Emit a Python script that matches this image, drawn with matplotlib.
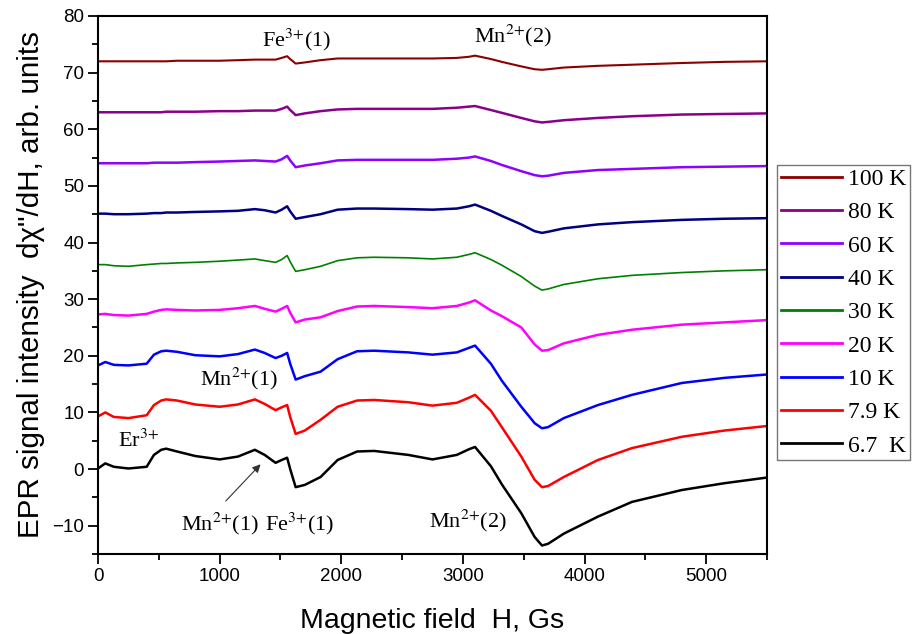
import matplotlib
matplotlib.use("Agg")
import matplotlib.pyplot as plt
from matplotlib.ticker import MultipleLocator

# Magnetic field grid (Gs)
field = [0, 60, 130, 250, 400, 460, 520, 560, 650, 800, 1000, 1150, 1290, 1370, 1460,
         1510, 1555, 1580, 1625, 1700, 1830, 1970, 2130, 2270, 2550, 2750, 2950, 3050,
         3100, 3230, 3320, 3480, 3590, 3650, 3700, 3830, 4110, 4390, 4800, 5150, 5500]

t100 = [72.0, 72.0, 72.0, 72.0, 72.0, 72.0, 72.0, 72.0, 72.1, 72.1, 72.1, 72.2, 72.3, 72.3, 72.3,
        72.6, 72.9, 72.4, 71.6, 71.8, 72.2, 72.5, 72.5, 72.5, 72.5, 72.5, 72.6, 72.8,
        73.0, 72.4, 71.9, 71.1, 70.6, 70.5, 70.6, 70.9, 71.2, 71.4, 71.7, 71.9, 72.0]
t80 = [63.0, 63.0, 63.0, 63.0, 63.0, 63.0, 63.0, 63.1, 63.1, 63.1, 63.2, 63.2, 63.3, 63.3, 63.3,
       63.6, 64.0, 63.4, 62.5, 62.8, 63.2, 63.5, 63.6, 63.6, 63.6, 63.6, 63.8, 64.0,
       64.1, 63.4, 62.9, 62.0, 61.4, 61.2, 61.3, 61.6, 62.0, 62.3, 62.6, 62.7, 62.8]
t60 = [54.0, 54.0, 54.0, 54.0, 54.0, 54.1, 54.1, 54.1, 54.1, 54.2, 54.3, 54.4, 54.5, 54.4, 54.3,
       54.7, 55.3, 54.5, 53.3, 53.6, 54.0, 54.5, 54.6, 54.6, 54.6, 54.6, 54.8, 55.0,
       55.2, 54.4, 53.7, 52.6, 51.9, 51.7, 51.8, 52.3, 52.8, 53.0, 53.3, 53.4, 53.5]
t40 = [45.1, 45.1, 45.0, 45.0, 45.1, 45.2, 45.2, 45.3, 45.3, 45.4, 45.5, 45.6, 45.9, 45.7, 45.3,
       45.8, 46.4, 45.5, 44.2, 44.5, 45.0, 45.8, 46.0, 46.0, 45.9, 45.8, 46.0, 46.4,
       46.7, 45.6, 44.7, 43.2, 42.0, 41.7, 41.9, 42.5, 43.2, 43.6, 44.0, 44.2, 44.3]
t30 = [36.1, 36.1, 35.9, 35.8, 36.1, 36.2, 36.3, 36.3, 36.4, 36.5, 36.7, 36.9, 37.1, 36.8, 36.5,
       37.0, 37.7, 36.6, 34.9, 35.2, 35.8, 36.8, 37.3, 37.4, 37.3, 37.1, 37.4, 37.9,
       38.2, 37.0, 36.0, 34.0, 32.3, 31.6, 31.8, 32.6, 33.6, 34.2, 34.7, 35.0, 35.2]
t20 = [27.3, 27.4, 27.2, 27.1, 27.4, 27.8, 28.1, 28.2, 28.1, 28.0, 28.1, 28.4, 28.8, 28.3, 27.8,
       28.3, 28.8, 27.6, 25.9, 26.4, 26.8, 27.9, 28.7, 28.8, 28.6, 28.4, 28.8, 29.4,
       29.8, 28.0, 27.0, 25.0, 22.0, 20.9, 21.0, 22.2, 23.7, 24.6, 25.5, 25.9, 26.3]
t10 = [18.3, 18.9, 18.4, 18.3, 18.6, 20.2, 20.8, 20.9, 20.7, 20.1, 19.9, 20.3, 21.1, 20.5, 19.6,
       20.0, 20.5, 18.6, 15.8, 16.4, 17.2, 19.4, 20.8, 20.9, 20.6, 20.2, 20.6, 21.4,
       21.8, 18.6, 15.6, 11.0, 8.1, 7.2, 7.4, 9.0, 11.3, 13.1, 15.2, 16.1, 16.7]
t7_9 = [9.3, 10.0, 9.2, 9.0, 9.5, 11.3, 12.1, 12.3, 12.1, 11.4, 11.0, 11.4, 12.3, 11.5, 10.4,
        10.9, 11.3, 9.2, 6.2, 6.8, 8.7, 11.0, 12.1, 12.2, 11.8, 11.2, 11.7, 12.6,
        13.1, 10.3, 7.4, 2.2, -1.9, -3.2, -3.0, -1.4, 1.6, 3.7, 5.7, 6.8, 7.6]
t6_7 = [0.1, 1.0, 0.4, 0.1, 0.4, 2.5, 3.4, 3.6, 3.1, 2.3, 1.7, 2.2, 3.4, 2.5, 1.1,
        1.6, 2.0, 0.0, -3.2, -2.8, -1.4, 1.6, 3.1, 3.2, 2.5, 1.7, 2.5, 3.5,
        3.9, 0.5, -2.7, -7.8, -12.0, -13.5, -13.2, -11.4, -8.4, -5.8, -3.7, -2.5, -1.5]

labels = ["100 K", "80 K", "60 K", "40 K", "30 K", "20 K", "10 K", "7.9 K", "6.7  K"]
series = [t100, t80, t60, t40, t30, t20, t10, t7_9, t6_7]
colors = ["#8B0000", "#8B008B", "#8F00FF", "#000080", "#008000", "#FF00FF", "#0000FF",
          "#FF0000", "#000000"]
widths = [1.5, 1.8, 1.8, 1.8, 1.2, 1.8, 1.8, 1.8, 1.8]

plt.rcParams['mathtext.fontset'] = 'stix'
sans = ['Liberation Sans', 'DejaVu Sans']
serif = ['Liberation Serif', 'DejaVu Serif']

fig = plt.figure(figsize=(9.13, 6.34), dpi=100)
ax = fig.add_axes([98 / 913, 1 - 554 / 634, (767 - 98) / 913, (554 - 16) / 634])

handles = []
for ys, c, lw, lab in zip(series, colors, widths, labels):
    h, = ax.plot(field, ys, color=c, lw=lw, label=lab, solid_joinstyle='round')
    handles.append(h)

ax.set_xlim(0, 5500)
ax.set_ylim(-15, 80)
ax.xaxis.set_major_locator(MultipleLocator(1000))
ax.xaxis.set_minor_locator(MultipleLocator(500))
ax.yaxis.set_major_locator(MultipleLocator(10))
ax.yaxis.set_minor_locator(MultipleLocator(5))
ax.tick_params(which='major', direction='out', length=7, width=1.3, labelsize=13.5, pad=3)
ax.tick_params(which='minor', direction='out', length=4, width=1.3)
for lab in ax.get_xticklabels() + ax.get_yticklabels():
    lab.set_family(sans)
for sp in ax.spines.values():
    sp.set_linewidth(1.5)

ax.set_xlabel("Magnetic field  H, Gs", fontsize=20.5, family=sans, labelpad=17)
ax.set_ylabel('EPR signal intensity  d\u03c7"/dH, arb. units', fontsize=21.3, family=sans, labelpad=5)

tk = dict(fontsize=16, family=serif, ha='center', va='center')
ax.text(1632, 75.7, "Fe$^{3{+}}$(1)", **tk)
ax.text(3413, 76.5, "Mn$^{2{+}}$(2)", **tk)
ax.text(1155, 15.9, "Mn$^{2{+}}$(1)", **tk)
ax.text(330, 5.0, "Er$^{3{+}}$", **tk)
ax.text(1000, -9.6, "Mn$^{2{+}}$(1)", **tk)
ax.text(1657, -9.6, "Fe$^{3{+}}$(1)", **tk)
ax.text(3042, -9.2, "Mn$^{2{+}}$(2)", **tk)
ax.annotate("", xy=(1352, 1.2), xytext=(1035, -6.0),
            arrowprops=dict(arrowstyle='-|>', color='#333333', lw=0.8, mutation_scale=12))

leg = fig.legend(handles=handles, loc='upper left', bbox_to_anchor=(777 / 913, 1 - 165 / 634),
                 frameon=True, fancybox=False, prop={'family': serif, 'size': 17},
                 handlelength=2.6, handletextpad=0.25, borderpad=0.15, labelspacing=0.5,
                 borderaxespad=0)
leg.get_frame().set_edgecolor('#555555')
leg.get_frame().set_linewidth(1.0)
for l in leg.get_lines():
    l.set_linewidth(2.0)

fig.savefig("out.png", dpi=100)
